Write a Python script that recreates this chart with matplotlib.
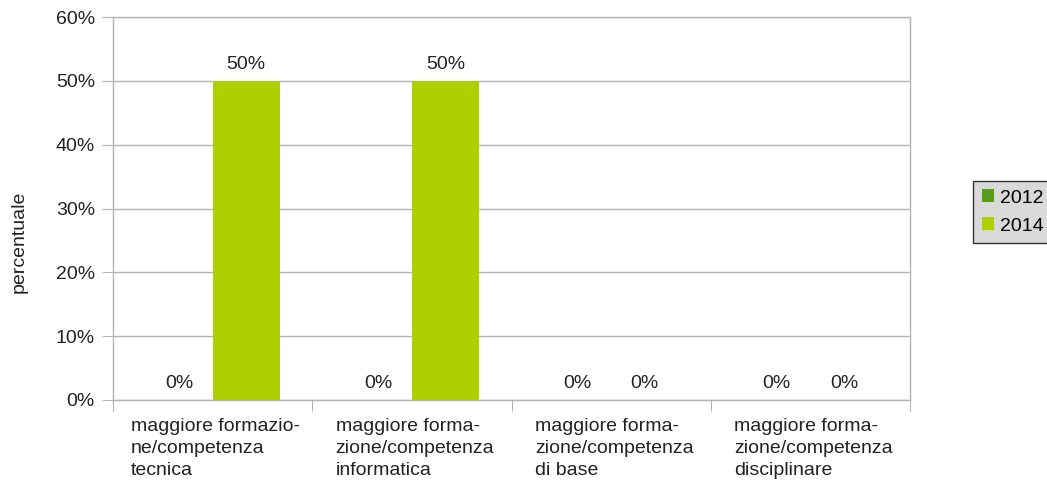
import matplotlib
matplotlib.use("Agg")
import matplotlib.pyplot as plt
import numpy as np
from matplotlib.patches import Patch

plt.rcParams['font.family'] = ['Liberation Sans', 'DejaVu Sans']

categories = ["maggiore formazio-\nne/competenza\ntecnica",
              "maggiore forma-\nzione/competenza\ninformatica",
              "maggiore forma-\nzione/competenza\ndi base",
              "maggiore forma-\nzione/competenza\ndisciplinare"]
series_names = ["2012", "2014"]
values_2012 = [0, 0, 0, 0]
values_2014 = [50, 50, 0, 0]
colors = ["#579D1C", "#AECF00"]
y_ticks = [0, 10, 20, 30, 40, 50, 60]

FS = 14
fig = plt.figure(figsize=(10.47, 4.84), dpi=100)
ax = fig.add_axes([113/1047, 1-400/484, (910-113)/1047, (400-17)/484])

x = np.arange(len(categories))
w = 0.337
for i, (vals, col) in enumerate(zip([values_2012, values_2014], colors)):
    pos = x + (i - 0.5) * w
    ax.bar(pos, vals, width=w, color=col, zorder=3)
    for p, v in zip(pos, vals):
        ax.text(p, v + 1.3, f"{v}%", ha='center', va='bottom', fontsize=FS, color='#222222')

ax.set_xlim(-0.5, len(categories) - 0.5)
ax.set_ylim(0, 60)
ax.set_yticks(y_ticks)
ax.set_yticklabels([f"{t}%" for t in y_ticks], fontsize=FS, color='#222222')
ax.yaxis.grid(True, color='#b3b3b3', linewidth=1, zorder=0)
ax.set_xticks(np.arange(len(categories) + 1) - 0.5)
ax.set_xticklabels([])
ax.set_xticks(x + 0.015, minor=True)
ax.set_xticklabels(categories, minor=True, fontsize=FS, ha='center', multialignment='left',
                   linespacing=1.38, color='#222222')
ax.tick_params(axis='x', which='minor', length=0, pad=13)
ax.tick_params(axis='x', which='major', length=8, color='#b3b3b3')
ax.tick_params(axis='y', length=8, color='#b3b3b3', pad=5)
for s in ax.spines.values():
    s.set_color('#b3b3b3')
    s.set_linewidth(1)
fig.text(19/1047, 0.5, "percentuale", rotation=90, ha='center', va='center',
         fontsize=FS, color='#222222')

handles = [Patch(facecolor=c, edgecolor='none') for c in colors]
leg = fig.legend(handles, series_names, loc='center left', bbox_to_anchor=(973/1047, 1-212/484),
                 fontsize=FS, frameon=True, fancybox=False, handlelength=0.65, handleheight=0.65,
                 handletextpad=0.3, borderpad=0.45, labelspacing=0.55, borderaxespad=0)
leg.get_frame().set_facecolor('#d9d9d9')
leg.get_frame().set_edgecolor('#333333')
leg.get_frame().set_linewidth(1)
leg.get_frame().set_alpha(1)

fig.savefig("out.png", dpi=100)
